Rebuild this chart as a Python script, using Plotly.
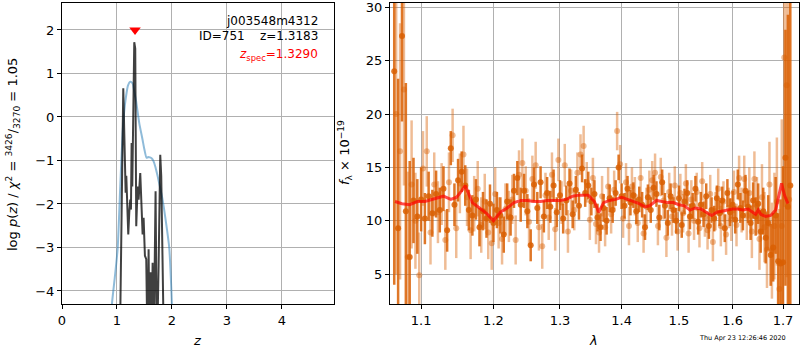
import numpy as np
import plotly.graph_objects as go

# ---- redshift probability p(z) ----
z_spec = 1.3290
z_best = 1.3183

z_pz_smooth = [0.85, 0.909, 0.96, 1.012, 1.06, 1.103, 1.13, 1.164, 1.2, 1.242, 1.285, 1.31, 1.345,
               1.406, 1.467, 1.5, 1.539, 1.57, 1.6, 1.63, 1.667, 1.70, 1.74, 1.79, 1.83, 1.89,
               1.951, 2.0, 2.05]
logp_smooth = [-6.0, -4.3, -3.7, -3.04, -1.6, -0.37, 0.1, 0.46, 0.72, 0.81, 0.77, 0.62, 0.39,
               -0.14, -0.53, -0.75, -0.94, -0.92, -0.93, -0.95, -1.02, -1.15, -1.36, -1.65, -1.9,
               -2.4, -3.0, -4.3, -6.5]

z_pz = [0.98, 1.06, 1.115, 1.145, 1.158, 1.17, 1.182, 1.206, 1.224, 1.242, 1.255, 1.267, 1.279,
        1.303, 1.315, 1.333, 1.351, 1.376, 1.394, 1.424, 1.449, 1.467, 1.485, 1.509, 1.533,
        1.558, 1.576, 1.594, 1.612, 1.63, 1.649, 1.667, 1.703, 1.727, 1.758, 1.788, 1.806,
        1.83, 1.9]
logp = [-8.0, -4.6, 0.66, -1.29, -1.74, -1.35, -1.9, -2.70, -2.2, -1.9, -2.13, -0.60, -1.6,
        0.3, 1.72, 1.57, -2.51, -1.6, -1.9, -1.29, -2.32, -2.70, -2.32, -3.19, -3.27,
        -5.5, -3.04, -5.5, -3.57, -5.5, -3.35, -5.5, -1.71, -5.5, -3.42, -0.87, -1.36,
        -5.5, -9.0]

# ---- 1D spectrum, two grism beams ----
lam_a = [1.065, 1.070, 1.075, 1.080, 1.085, 1.090, 1.095, 1.100, 1.105, 1.110, 1.115, 1.120,
         1.125, 1.130, 1.135, 1.140, 1.145, 1.150, 1.155, 1.160, 1.165, 1.170, 1.175, 1.180,
         1.185, 1.190, 1.195, 1.200, 1.205, 1.210, 1.215, 1.220, 1.225, 1.230, 1.235, 1.240,
         1.245, 1.250, 1.255, 1.260, 1.265, 1.270, 1.275, 1.280, 1.285, 1.290, 1.295, 1.300,
         1.305, 1.310, 1.315, 1.320, 1.325, 1.330, 1.335, 1.340, 1.345, 1.350, 1.355, 1.360,
         1.365, 1.370, 1.375, 1.380, 1.385, 1.390, 1.395, 1.400, 1.405, 1.410, 1.415, 1.420,
         1.425, 1.430, 1.435, 1.440, 1.445, 1.450, 1.455, 1.460, 1.465, 1.470, 1.475, 1.480,
         1.485, 1.490, 1.495, 1.500, 1.505, 1.510, 1.515, 1.520, 1.525, 1.530, 1.535, 1.540,
         1.545, 1.550, 1.555, 1.560, 1.565, 1.570, 1.575, 1.580, 1.585, 1.590, 1.595, 1.600,
         1.605, 1.610, 1.615, 1.620, 1.625, 1.630, 1.635, 1.640, 1.645, 1.650, 1.655, 1.660,
         1.665, 1.670, 1.675, 1.680, 1.685, 1.690, 1.695, 1.700, 1.705, 1.710, 1.715]
flux_a = [24.0, 9.3, 27.3, 10.9, 6.6, 11.9, 10.4, 12.0, 10.2, 12.3, 10.7, 12.5,
          11.0, 13.0, 9.1, 16.8, 11.5, 13.8, 14.6, 13.3, 11.0, 10.5, 12.0, 9.4,
          10.9, 10.2, 11.6, 9.8, 11.0, 10.5, 8.7, 11.8, 10.3, 12.8, 14.0, 11.5,
          12.8, 10.9, 7.7, 13.4, 11.2, 13.6, 10.4, 12.6, 11.3, 13.3, 10.8, 12.4,
          10.2, 11.9, 13.5, 10.6, 12.9, 11.4, 14.9, 12.6, 13.3, 11.8, 12.5, 10.3,
          9.4, 11.2, 10.0, 12.1, 11.0, 12.6, 15.0, 12.3, 11.4, 13.0, 11.7, 12.4,
          10.9, 12.0, 11.5, 9.4, 12.2, 11.0, 13.1, 12.5, 10.3, 13.6, 11.4, 9.8,
          12.3, 11.0, 10.0, 12.1, 9.6, 11.8, 12.6, 10.4, 11.4, 13.0, 9.9, 11.5,
          10.6, 12.3, 9.5, 11.0, 10.2, 12.1, 10.7, 11.9, 9.3, 12.6, 10.8, 11.5,
          10.1, 13.4, 11.2, 10.5, 12.8, 11.3, 9.8, 11.9, 10.4, 11.6, 9.0, 10.9,
          8.4, 9.8, 6.8, 7.5, 10.5, 6.2, 6.0, 6.1, 15.9, 11.3, 13.3]
err_a = [20.0, 14.0, 8.0, 12.0, 9.0, 4.0, 3.5, 3.0, 2.4, 2.3, 2.2, 2.2,
         2.1, 2.1, 2.0, 1.6, 2.0, 2.0, 1.9, 1.9, 1.9, 1.9, 1.9, 1.8,
         1.8, 1.8, 1.8, 1.8, 1.7, 1.7, 1.7, 1.7, 1.7, 1.6, 1.6, 1.6,
         1.6, 1.6, 1.5, 1.6, 1.5, 1.5, 1.5, 1.5, 1.5, 1.5, 1.4, 1.4,
         1.4, 1.4, 1.4, 1.3, 1.3, 1.3, 1.3, 1.3, 1.3, 1.3, 1.3, 1.3,
         1.3, 1.3, 1.3, 1.3, 1.2, 1.2, 1.2, 1.2, 1.2, 1.2, 1.2, 1.2,
         1.2, 1.2, 1.2, 1.2, 1.2, 1.2, 1.2, 1.2, 1.2, 1.2, 1.2, 1.2,
         1.2, 1.2, 1.2, 1.2, 1.2, 1.2, 1.2, 1.2, 1.2, 1.2, 1.2, 1.2,
         1.2, 1.2, 1.2, 1.2, 1.2, 1.2, 1.2, 1.3, 1.3, 1.3, 1.3, 1.3,
         1.3, 1.4, 1.4, 1.4, 1.5, 1.5, 1.6, 1.7, 1.8, 1.9, 2.0, 2.2,
         2.4, 2.6, 2.9, 3.2, 3.6, 4.5, 6.0, 9.0, 12.0, 18.0, 24.0]

lam_b = [1.0675, 1.0725, 1.0775, 1.0825, 1.0875, 1.0925, 1.0975, 1.1025, 1.1075, 1.1125,
         1.1175, 1.1225, 1.1275, 1.1325, 1.1375, 1.1425, 1.1475, 1.1525, 1.1575, 1.1625,
         1.1675, 1.1725, 1.1775, 1.1825, 1.1875, 1.1925, 1.1975, 1.2025, 1.2075, 1.2125,
         1.2175, 1.2225, 1.2275, 1.2325, 1.2375, 1.2425, 1.2475, 1.2525, 1.2575, 1.2625,
         1.2675, 1.2725, 1.2775, 1.2825, 1.2875, 1.2925, 1.2975, 1.3025, 1.3075, 1.3125,
         1.3175, 1.3225, 1.3275, 1.3325, 1.3375, 1.3425, 1.3475, 1.3525, 1.3575, 1.3625,
         1.3675, 1.3725, 1.3775, 1.3825, 1.3875, 1.3925, 1.3975, 1.4025, 1.4075, 1.4125,
         1.4175, 1.4225, 1.4275, 1.4325, 1.4375, 1.4425, 1.4475, 1.4525, 1.4575, 1.4625,
         1.4675, 1.4725, 1.4775, 1.4825, 1.4875, 1.4925, 1.4975, 1.5025, 1.5075, 1.5125,
         1.5175, 1.5225, 1.5275, 1.5325, 1.5375, 1.5425, 1.5475, 1.5525, 1.5575, 1.5625,
         1.5675, 1.5725, 1.5775, 1.5825, 1.5875, 1.5925, 1.5975, 1.6025, 1.6075, 1.6125,
         1.6175, 1.6225, 1.6275, 1.6325, 1.6375, 1.6425, 1.6475, 1.6525, 1.6575, 1.6625,
         1.6675, 1.6725, 1.6775, 1.6825, 1.6875, 1.6925, 1.6975, 1.7025, 1.7075, 1.7125]
flux_b = [20.0, 16.5, 22.3, 6.6, 13.4, 10.0, 4.9, 14.9, 16.5, 8.9,
          13.4, 10.8, 12.5, 8.2, 13.6, 18.0, 9.3, 13.5, 16.2, 12.2,
          9.1, 11.6, 13.0, 9.6, 11.8, 8.9, 7.9, 12.5, 9.8, 8.3,
          11.1, 10.4, 12.0, 8.2, 14.3, 15.4, 12.8, 9.9, 13.9, 15.2,
          9.4, 7.6, 12.4, 10.3, 14.3, 9.2, 15.7, 11.7, 15.2, 9.0,
          12.8, 11.0, 14.5, 16.2, 17.0, 13.6, 10.1, 14.0, 9.7, 8.9,
          12.3, 9.4, 13.2, 10.6, 12.9, 18.4, 15.3, 10.2, 13.6, 9.5,
          13.2, 12.3, 9.8, 14.0, 8.8, 11.3, 12.9, 13.8, 14.5, 9.5,
          14.1, 11.9, 8.4, 12.7, 10.4, 13.3, 9.0, 12.6, 10.7, 13.5,
          8.8, 12.0, 10.0, 12.7, 9.3, 13.7, 10.3, 9.1, 12.5, 8.0,
          10.9, 13.0, 9.5, 11.8, 8.7, 11.2, 10.1, 12.7, 9.6, 14.0,
          11.0, 13.9, 10.5, 12.6, 9.0, 13.9, 11.4, 8.3, 12.2, 9.4,
          7.3, 13.4, 7.2, 9.5, 11.8, 3.6, 9.5, 25.3, 22.7, 12.0]
err_b = [15.0, 12.0, 9.0, 8.0, 6.0, 4.5, 4.0, 3.5, 3.3, 3.0,
         3.0, 2.9, 2.9, 2.8, 2.8, 2.5, 2.8, 2.8, 2.7, 2.7,
         2.7, 2.6, 2.6, 2.6, 2.6, 2.5, 2.5, 2.5, 2.4, 2.4,
         2.4, 2.4, 2.3, 2.3, 2.3, 2.3, 2.3, 2.2, 2.2, 2.2,
         2.2, 2.1, 2.1, 2.1, 2.1, 2.0, 2.0, 2.0, 2.0, 2.0,
         2.0, 1.9, 1.9, 1.9, 1.9, 1.9, 1.9, 1.9, 1.9, 1.9,
         1.9, 1.8, 1.8, 1.8, 1.8, 1.8, 1.8, 1.8, 1.8, 1.8,
         1.8, 1.8, 1.8, 1.8, 1.8, 1.8, 1.8, 1.8, 1.8, 1.8,
         1.8, 1.8, 1.8, 1.8, 1.8, 1.8, 1.8, 1.8, 1.8, 1.8,
         1.8, 1.8, 1.8, 1.8, 1.8, 1.8, 1.8, 1.8, 1.8, 1.8,
         1.8, 1.9, 1.9, 1.9, 1.9, 1.9, 2.0, 2.0, 2.0, 2.1,
         2.1, 2.2, 2.3, 2.4, 2.5, 2.6, 2.7, 2.9, 3.1, 3.3,
         3.6, 4.0, 4.5, 5.0, 6.0, 7.5, 10.0, 14.0, 18.0, 22.0]

# best-fit template
lam_model = [1.066, 1.075, 1.085, 1.095, 1.105, 1.115, 1.125, 1.13, 1.14, 1.148, 1.155, 1.16,
             1.163, 1.17, 1.18, 1.19, 1.20, 1.21, 1.22, 1.23, 1.24, 1.25, 1.26, 1.27, 1.28,
             1.29, 1.30, 1.31, 1.32, 1.33, 1.345, 1.355, 1.362, 1.37, 1.38, 1.39, 1.40, 1.41,
             1.42, 1.43, 1.44, 1.448, 1.46, 1.47, 1.48, 1.49, 1.50, 1.51, 1.52, 1.53, 1.54,
             1.55, 1.56, 1.57, 1.58, 1.59, 1.60, 1.61, 1.62, 1.63, 1.64, 1.645, 1.65, 1.655,
             1.665, 1.675, 1.685, 1.69, 1.697, 1.703, 1.71]
flux_model = [11.8, 11.6, 11.5, 11.8, 11.8, 12.0, 12.2, 12.3, 12.0, 12.2, 12.8, 13.3,
              12.8, 11.7, 11.2, 10.7, 10.0, 10.8, 11.2, 11.7, 11.9, 11.9, 11.8, 11.8, 11.9,
              11.9, 11.9, 12.0, 12.3, 12.4, 12.4, 11.8, 10.8, 11.7, 11.9, 12.0, 12.2, 12.0,
              11.8, 11.6, 11.3, 11.4, 11.9, 11.8, 11.7, 11.7, 11.5, 11.4, 11.0, 11.2, 11.1,
              10.8, 10.5, 10.8, 10.9, 11.0, 11.1, 11.1, 11.0, 11.1, 10.8, 10.6, 11.0, 10.6,
              10.4, 10.5, 11.0, 12.0, 13.5, 12.4, 11.6]

z_ticks = [0, 1, 2, 3, 4]
logp_ticks = [-4, -3, -2, -1, 0, 1, 2]
lam_ticks = [1.1, 1.2, 1.3, 1.4, 1.5, 1.6, 1.7]
flux_ticks = [5, 10, 15, 20, 25, 30]

FONT = "DejaVu Sans"
FS = 12
GRID = "#b0b0b0"
ORANGE_DARK = "rgba(217,95,2,0.85)"
ORANGE_LIGHT = "rgba(217,95,2,0.42)"

fig = go.Figure()

fig.add_trace(go.Scatter(x=z_pz_smooth, y=logp_smooth, mode="lines",
                         line=dict(color="rgba(31,119,180,0.5)", width=2,
                                   shape="spline", smoothing=0.6),
                         xaxis="x", yaxis="y", hoverinfo="skip"))
fig.add_trace(go.Scatter(x=z_pz, y=logp, mode="lines",
                         line=dict(color="rgba(0,0,0,0.75)", width=2),
                         xaxis="x", yaxis="y", hoverinfo="skip"))
fig.add_trace(go.Scatter(x=[z_spec], y=[2.0], mode="markers",
                         marker=dict(symbol="triangle-down", size=10, color="red",
                                     line=dict(width=0)),
                         xaxis="x", yaxis="y", hoverinfo="skip"))

fig.add_trace(go.Scatter(x=lam_b, y=flux_b, mode="markers",
                         marker=dict(size=6, color=ORANGE_LIGHT, line=dict(width=0)),
                         error_y=dict(type="data", array=err_b, color=ORANGE_LIGHT,
                                      thickness=2.5, width=0),
                         xaxis="x2", yaxis="y2", hoverinfo="skip"))
fig.add_trace(go.Scatter(x=lam_a, y=flux_a, mode="markers",
                         marker=dict(size=6, color=ORANGE_DARK, line=dict(width=0)),
                         error_y=dict(type="data", array=err_a, color=ORANGE_DARK,
                                      thickness=2.5, width=0),
                         xaxis="x2", yaxis="y2", hoverinfo="skip"))
fig.add_trace(go.Scatter(x=lam_model, y=flux_model, mode="lines",
                         line=dict(color="rgba(255,0,0,0.7)", width=3),
                         xaxis="x2", yaxis="y2", hoverinfo="skip"))

axis_common = dict(showgrid=True, gridcolor=GRID, gridwidth=1, zeroline=False,
                   showline=True, linecolor="black", linewidth=1, mirror=True,
                   ticks="outside", ticklen=4, tickcolor="black",
                   automargin=False, ticklabeloverflow="allow",
                   tickfont=dict(family=FONT, size=FS + 1, color="black"))

y_dom = [1 - 304 / 350, 1 - 3 / 350]

fig.update_layout(
    width=800, height=350, showlegend=False,
    margin=dict(l=0, r=0, t=0, b=0),
    paper_bgcolor="white", plot_bgcolor="white",
    xaxis=dict(domain=[62 / 800, 334 / 800], range=[0, 4.95], tickvals=z_ticks,
               anchor="y", **axis_common),
    yaxis=dict(domain=y_dom, range=[-4.3, 2.62], tickvals=logp_ticks,
               anchor="x", **axis_common),
    xaxis2=dict(domain=[390 / 800, 799 / 800], type="log",
                range=[np.log10(1.0596), np.log10(1.733)],
                tickvals=lam_ticks, ticktext=[f"{v:.1f}" for v in lam_ticks],
                anchor="y2", **axis_common),
    yaxis2=dict(domain=y_dom, range=[2.2, 30.4], tickvals=flux_ticks,
                anchor="x2", **axis_common),
)


def px(x, y):
    return x / 800, 1 - y / 350


annotations = []


def add_text(text, x, y, size=FS, color="black", xanchor="center", angle=0):
    ax, ay = px(x, y)
    annotations.append(dict(text=text, x=ax, y=ay, xref="paper", yref="paper",
                            xanchor=xanchor, yanchor="middle", showarrow=False,
                            textangle=angle,
                            font=dict(family=FONT, size=size, color=color)))


add_text("log <i>p</i>(<i>z</i>) / <i>χ</i><sup>2</sup> = "
         "<sup>3426</sup>/<sub>3270</sub> = 1.05", 13, 155, size=FS + 1, angle=-90)
add_text("<i>z</i>", 197, 340, size=FS + 1)
add_text("<i>f</i><sub>λ</sub> × 10<sup>−19</sup>", 345, 153, size=FS + 1, angle=-90)
add_text("<i>λ</i>", 593, 340, size=FS + 1)
add_text("j003548m4312", 320, 21, xanchor="right")
add_text("ID=751    z=%.4f" % z_best, 320, 36, xanchor="right")
add_text("<i>z</i><sub>spec</sub>=%.4f" % z_spec, 320, 55, color="red", xanchor="right")
add_text("Thu Apr 23 12:26:46 2020", 788, 338, size=6.5, xanchor="right")

fig.update_layout(annotations=annotations)

fig.write_html("out.html")
